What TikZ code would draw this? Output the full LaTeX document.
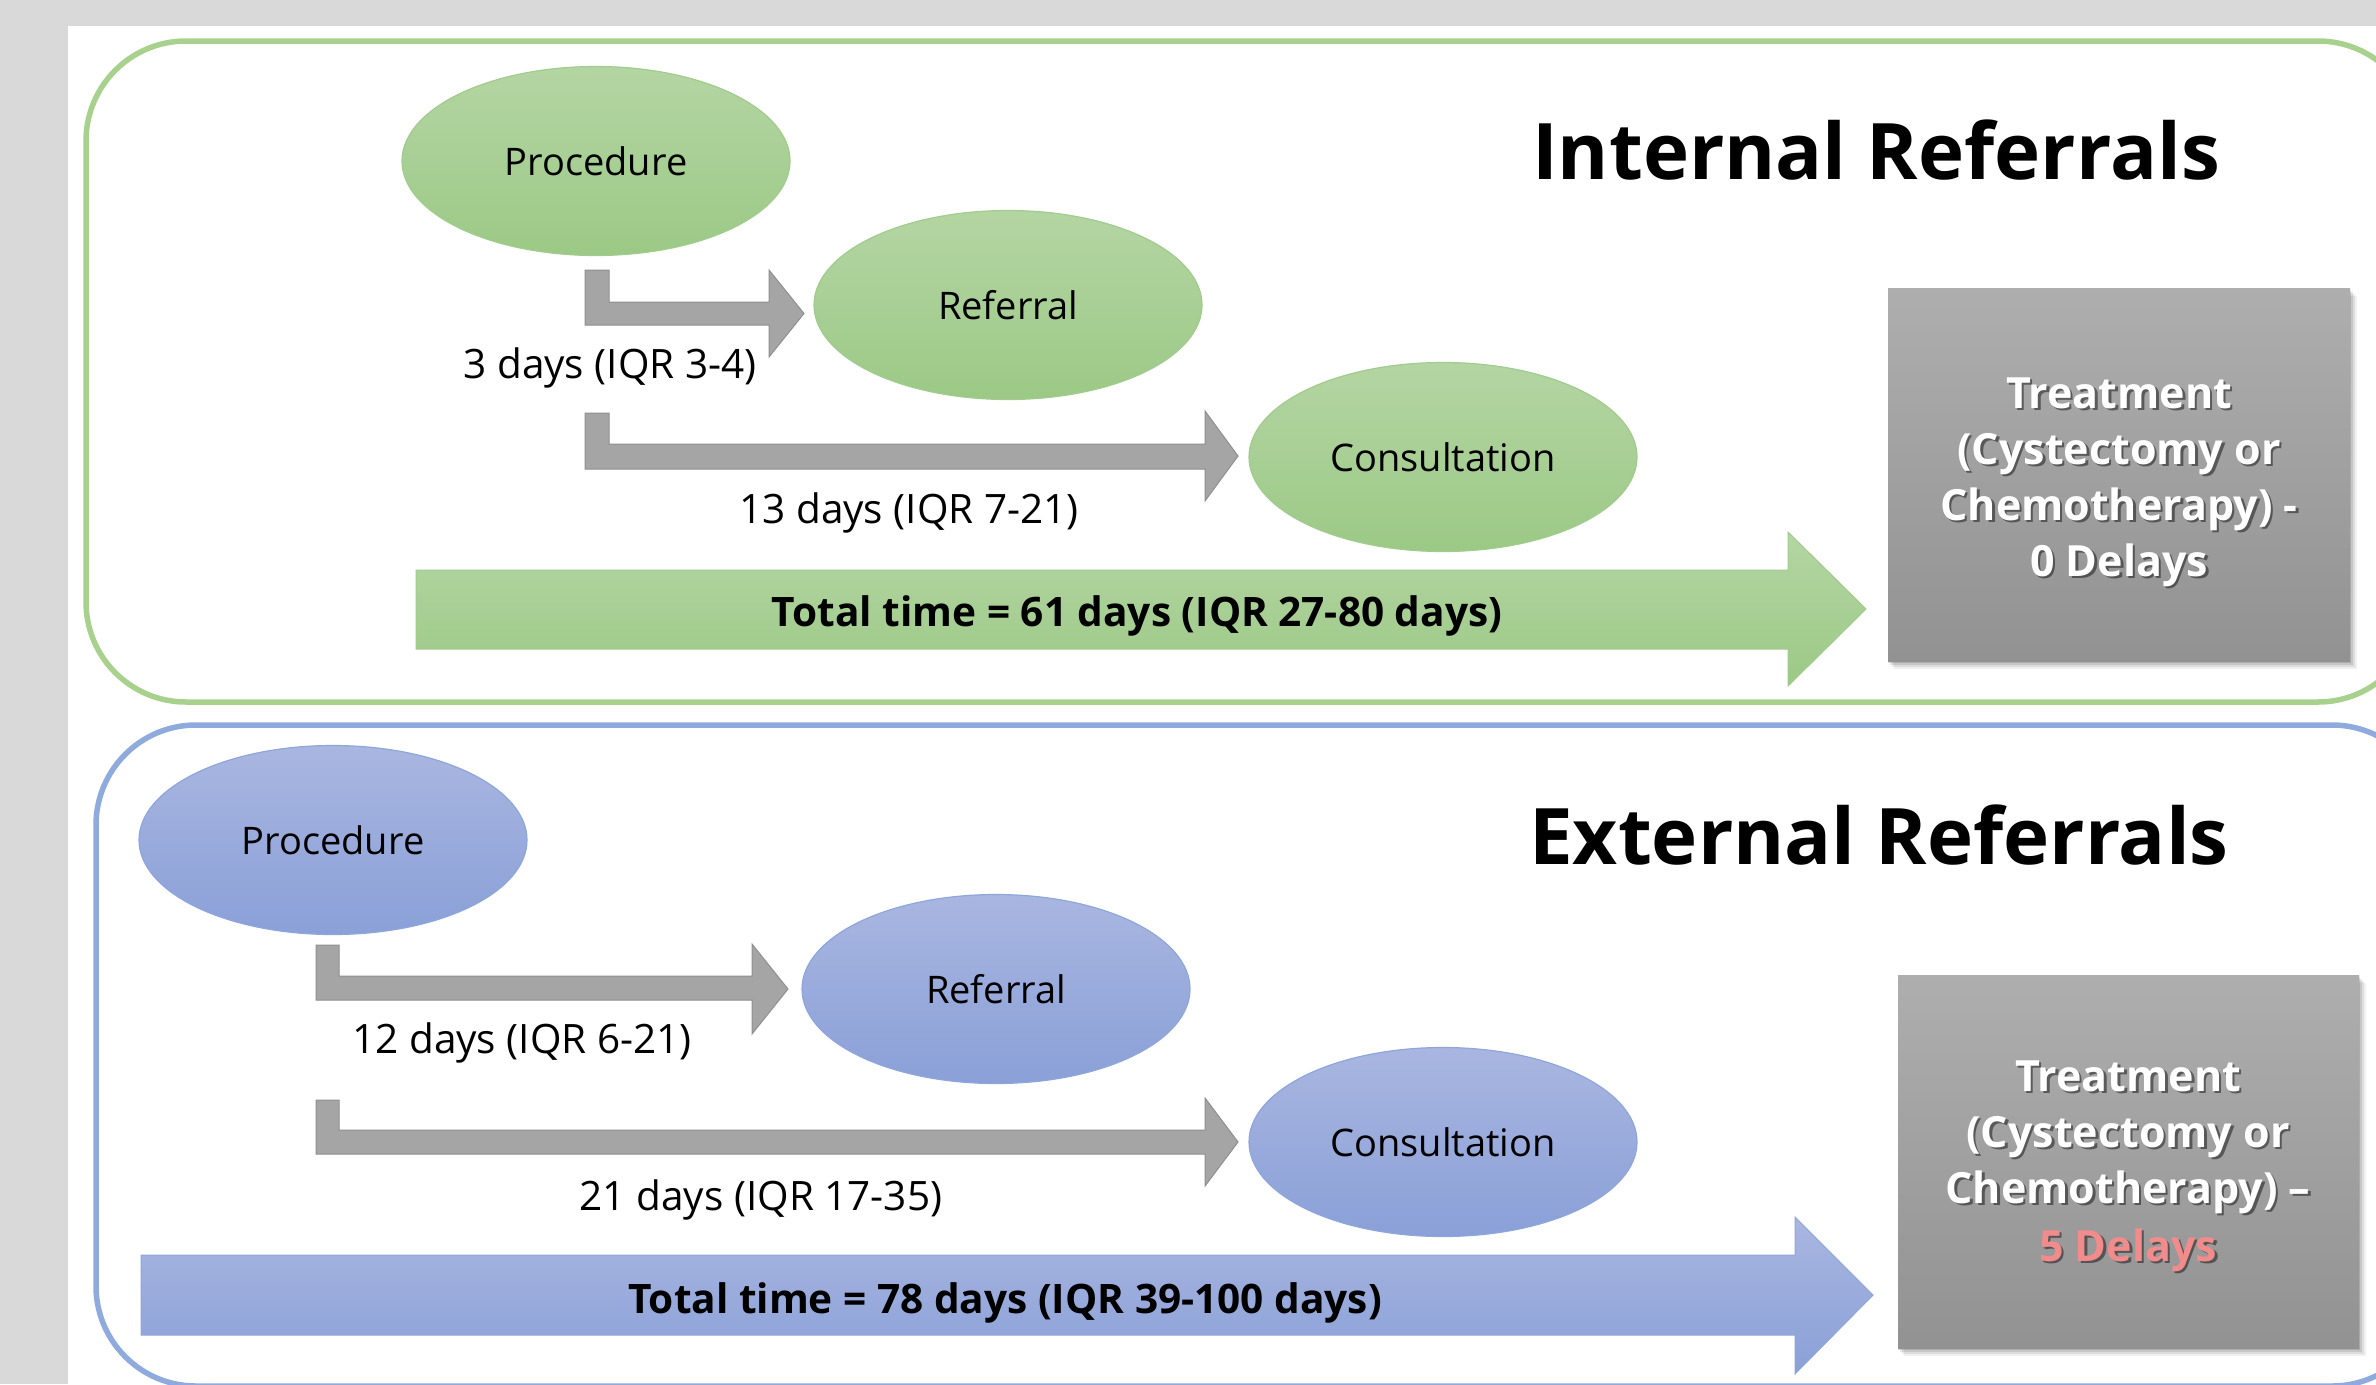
\documentclass[tikz,border=0pt]{standalone}
\usepackage{fontspec}
\setmainfont{Open Sans}
\usetikzlibrary{shapes.geometric}
\definecolor{bggray}{HTML}{D9D9D9}
\definecolor{gframe}{HTML}{A9D18E}
\definecolor{bframe}{HTML}{8FAADC}
\definecolor{gtop}{HTML}{B4D5A3}
\definecolor{gbot}{HTML}{9CC986}
\definecolor{gedge}{HTML}{A2CB8E}
\definecolor{btop}{HTML}{A9B6E0}
\definecolor{bbot}{HTML}{8AA0D8}
\definecolor{bedge}{HTML}{8FA6DB}
\definecolor{arrgray}{HTML}{A5A5A5}
\definecolor{arredge}{HTML}{8F8F8F}
\definecolor{boxtop}{HTML}{AEAEAE}
\definecolor{boxbot}{HTML}{929292}
\definecolor{delayred}{HTML}{F28B8B}
\newcommand\bentarrow[9]{%
  \path[grayarrow] (#1,#3) -- (#2,#3) -- (#2,#4) -- (#6,#4) -- (#6,#8) -- (#7,{(#8+#9)/2}) -- (#6,#9) -- (#6,#5) -- (#1,#5) -- cycle;}
\newcommand\shline[5]{%
  \node[tshadow, anchor=base] (#1s) at (#2+2.5,#3+2.5) {#5};
  \node[tline, text=#4, anchor=base] (#1) at (#2,#3) {#5};}
\begin{document}
\begin{tikzpicture}[x=1pt,y=-1pt,
  ell/.style={ellipse, minimum width=388pt, minimum height=189pt, inner sep=0pt, line width=1.2pt,
     font=\fontsize{38}{44}\selectfont},
  gell/.style={ell, draw=gedge, top color=gtop, bottom color=gbot},
  bell/.style={ell, draw=bedge, top color=btop, bottom color=bbot},
  lbl/.style={inner sep=0pt, font=\fontsize{40.5}{46}\selectfont, anchor=base},
  tot/.style={inner sep=0pt, font=\fontsize{40.6}{46}\selectfont\bfseries, anchor=base},
  ttl/.style={inner sep=0pt, font=\fontsize{78}{90}\selectfont\bfseries, anchor=base},
  grayarrow/.style={fill=arrgray, draw=arredge, line width=1pt},
  tshadow/.style={inner sep=0pt, text=black, opacity=0.45, font=\fontsize{43}{50}\selectfont\bfseries},
  tline/.style={inner sep=0pt, font=\fontsize{43}{50}\selectfont\bfseries},
  graybox/.style={top color=boxtop, bottom color=boxbot, draw=none},
]
\useasboundingbox (0,0) rectangle (2376,1384);
\fill[bggray] (0,0) rectangle (2376,1384);
\fill[white] (68,26) rectangle (2376,1384);
\begin{scope}
\clip (68,26) rectangle (2376,1384);
\draw[gframe, line width=5.5pt, rounded corners=100pt] (86,41) rectangle (2418,702);
\draw[bframe, line width=5.5pt, rounded corners=100pt] (96,725) rectangle (2432,1386);
\end{scope}

% ---------- Internal referrals ----------
\node[ttl] (title1) at (1876,179) {Internal Referrals};
\node[gell] (proc1) at (596,161) {Procedure};
\node[gell] (ref1) at (1008,305) {Referral};
\node[gell] (cons1) at (1443,457) {Consultation};
\bentarrow{585}{609}{270}{302}{325}{769}{804}{270}{357}
\bentarrow{585}{609}{413}{444}{469}{1205}{1238}{411}{501}
\node[lbl] (d1) at (610,378) {3 days (IQR 3-4)};
\node[lbl] (d2) at (909,523) {13 days (IQR 7-21)};
\path[top color=gtop, bottom color=gbot, draw=gedge, line width=1pt]
  (416,570) -- (1788,570) -- (1788,532) -- (1866,609) -- (1788,686) -- (1788,649) -- (416,649) -- cycle;
\node[tot] (tot1) at (1137,626) {Total time = 61 days (IQR 27-80 days)};
\foreach \o/\op in {9/0.06,7/0.08,5/0.1,3/0.12}
  \fill[black, opacity=\op] (1888+\o-3,288+\o-1) rectangle (2350+\o-2,661+\o-1);
\path[graybox] (1888,288) rectangle (2350,661);
\shline{a1}{2119}{408}{white}{Treatment}
\shline{a2}{2119}{464}{white}{(Cystectomy or}
\shline{a3}{2119}{520}{white}{Chemotherapy) -}
\shline{a4}{2119}{576}{white}{0 Delays}

% ---------- External referrals ----------
\node[ttl] (title2) at (1879,864) {External Referrals};
\node[bell] (proc2) at (333,840) {Procedure};
\node[bell] (ref2) at (996,989) {Referral};
\node[bell] (cons2) at (1443,1142) {Consultation};
\bentarrow{316}{339}{945}{976}{1000}{752}{788}{944}{1034}
\bentarrow{316}{339}{1100}{1130}{1154}{1205}{1238}{1098}{1186}
\node[lbl] (d3) at (522,1053) {12 days (IQR 6-21)};
\node[lbl] (d4) at (761,1210) {21 days (IQR 17-35)};
\path[top color=btop, bottom color=bbot, draw=bedge, line width=1pt]
  (141,1255) -- (1795,1255) -- (1795,1217) -- (1873,1295) -- (1795,1374) -- (1795,1335) -- (141,1335) -- cycle;
\node[tot] (tot2) at (1005,1313) {Total time = 78 days (IQR 39-100 days)};
\foreach \o/\op in {9/0.06,7/0.08,5/0.1,3/0.12}
  \fill[black, opacity=\op] (1898+\o-3,975+\o-1) rectangle (2359+\o-2,1348+\o-1);
\path[graybox] (1898,975) rectangle (2359,1348);
\shline{b1}{2128}{1091}{white}{Treatment}
\shline{b2}{2128}{1147}{white}{(Cystectomy or}
\shline{b3}{2128}{1203}{white}{Chemotherapy) –}
\shline{b4}{2128}{1261}{delayred}{5 Delays}
\end{tikzpicture}
\end{document}
